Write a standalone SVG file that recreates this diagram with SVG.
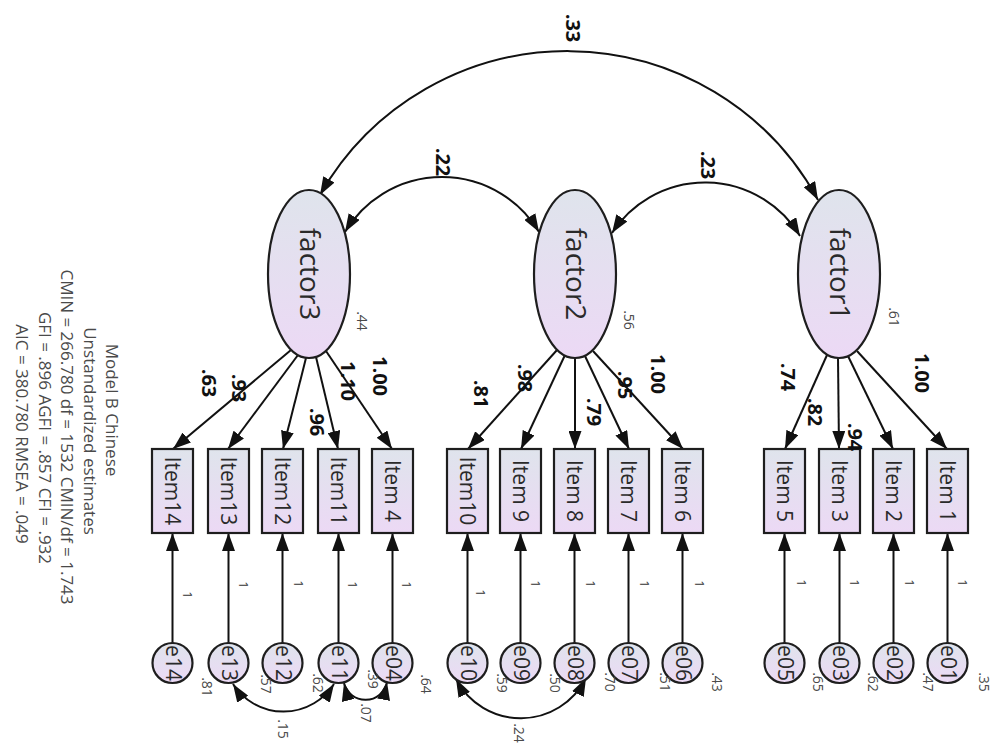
<svg xmlns="http://www.w3.org/2000/svg" width="999" height="747" viewBox="0 0 999 747">
  <style>
    .node { stroke: #1e1e1e; stroke-width: 2.2; fill: url(#shade); }
    .link { fill: none; stroke: #111; stroke-width: 2; }
    .one-way { marker-end: url(#head); }
    .two-way { marker-start: url(#head); marker-end: url(#head); }
    text { font-family: "Open Sans", "Noto Sans", "Liberation Sans", sans-serif; text-anchor: middle; dominant-baseline: central; }
    .item { font-size: 21px; fill: #2a2a2a; }
    .factor { font-size: 28px; fill: #2a2a2a; }
    .err { font-size: 21px; fill: #2a2a2a; }
    .est { font-size: 20px; font-weight: bold; fill: #111; }
    .var { font-size: 14px; fill: #4a4a4a; }
    .fix { font-size: 13px; fill: #333; }
    .fit { font-size: 17px; fill: #4a4a4a; }
  </style>
  <defs>
    <linearGradient id="shade" x1="0" y1="0" x2="0" y2="1">
      <stop offset="0" stop-color="#dfe4ec"/>
      <stop offset="1" stop-color="#ecd9f5"/>
    </linearGradient>
    <marker id="head" markerUnits="userSpaceOnUse" markerWidth="19" markerHeight="13" refX="18" refY="6.5" orient="auto-start-reverse">
      <path d="M0,0 L18,6.5 L0,13 z" fill="#111"/>
    </marker>
  </defs>

  <rect width="999" height="747" fill="#fff"/>

  <!-- model summary -->
  <g id="fit-summary" class="fit">
    <text transform="translate(112,410) rotate(90)">Model B Chinese</text>
    <text transform="translate(90,431) rotate(90)">Unstandardized estimates</text>
    <text transform="translate(67,437) rotate(90)">CMIN = 266.780 df = 1532 CMIN/df = 1.743</text>
    <text transform="translate(45,438) rotate(90)">GFI = .896 AGFI = .857 CFI = .932</text>
    <text transform="translate(22,434) rotate(90)">AIC = 380.780 RMSEA = .049</text>
  </g>

  <!-- connectors -->
  <g id="connectors">
    <!-- factor covariances -->
    <path class="link two-way" d="M320,195 A285,285 0 0,1 818,200"/>
    <path class="link two-way" d="M345,232 A113,113 0 0,1 539,232"/>
    <path class="link two-way" d="M612,233 A111,111 0 0,1 800,236"/>
    <!-- loadings -->
    <path class="link one-way" d="M291,350 L173,449"/>
    <path class="link one-way" d="M298,355 L228,449"/>
    <path class="link one-way" d="M306,358 L283,449"/>
    <path class="link one-way" d="M316,357 L338,449"/>
    <path class="link one-way" d="M326,351 L392,449"/>
    <path class="link one-way" d="M557,350 L468,449"/>
    <path class="link one-way" d="M565,355 L521,449"/>
    <path class="link one-way" d="M575,358 L575,449"/>
    <path class="link one-way" d="M585,356 L629,449"/>
    <path class="link one-way" d="M593,351 L683,449"/>
    <path class="link one-way" d="M827,355 L785,449"/>
    <path class="link one-way" d="M838,358 L839,449"/>
    <path class="link one-way" d="M848,356 L893,449"/>
    <path class="link one-way" d="M857,351 L947,449"/>
    <!-- error terms -->
    <path class="link one-way" d="M172.5,643 V533"/>
    <path class="link one-way" d="M228.5,643 V533"/>
    <path class="link one-way" d="M282.5,643 V533"/>
    <path class="link one-way" d="M338.5,643 V533"/>
    <path class="link one-way" d="M392.5,643 V533"/>
    <path class="link one-way" d="M467.5,643 V533"/>
    <path class="link one-way" d="M520.5,643 V533"/>
    <path class="link one-way" d="M574.5,643 V533"/>
    <path class="link one-way" d="M628.5,643 V533"/>
    <path class="link one-way" d="M682.5,643 V533"/>
    <path class="link one-way" d="M784.5,643 V533"/>
    <path class="link one-way" d="M839.5,643 V533"/>
    <path class="link one-way" d="M893.5,643 V533"/>
    <path class="link one-way" d="M947.5,643 V533"/>
    <!-- error covariances -->
    <path class="link two-way" d="M233,684 A60,60 0 0,0 334,684"/>
    <path class="link two-way" d="M344,683 A22,22 0 0,0 387,682"/>
    <path class="link two-way" d="M456,679 A73,73 0 0,0 586,678"/>
  </g>

  <!-- latent factors -->
  <g id="factor3"><ellipse class="node" cx="309" cy="274" rx="41" ry="84"/><text class="factor" transform="translate(311,274) rotate(90)">factor3</text></g>
  <g id="factor2"><ellipse class="node" cx="575" cy="274" rx="41" ry="84"/><text class="factor" transform="translate(577,274) rotate(90)">factor2</text></g>
  <g id="factor1"><ellipse class="node" cx="839" cy="274" rx="41" ry="84"/><text class="factor" transform="translate(841,274) rotate(90)">factor1</text></g>

  <!-- observed items -->
  <g id="item14"><rect class="node" x="152" y="449" width="41" height="84"/><text class="item" transform="translate(173,491) rotate(90)">Item14</text></g>
  <g id="item13"><rect class="node" x="208" y="449" width="41" height="84"/><text class="item" transform="translate(229,491) rotate(90)">Item13</text></g>
  <g id="item12"><rect class="node" x="262" y="449" width="41" height="84"/><text class="item" transform="translate(283,491) rotate(90)">Item12</text></g>
  <g id="item11"><rect class="node" x="318" y="449" width="41" height="84"/><text class="item" transform="translate(339,491) rotate(90)">Item11</text></g>
  <g id="item4"><rect class="node" x="372" y="449" width="41" height="84"/><text class="item" transform="translate(393,491) rotate(90)">Item 4</text></g>
  <g id="item10"><rect class="node" x="447" y="449" width="41" height="84"/><text class="item" transform="translate(468,491) rotate(90)">Item10</text></g>
  <g id="item9"><rect class="node" x="500" y="449" width="41" height="84"/><text class="item" transform="translate(521,491) rotate(90)">Item 9</text></g>
  <g id="item8"><rect class="node" x="554" y="449" width="41" height="84"/><text class="item" transform="translate(575,491) rotate(90)">Item 8</text></g>
  <g id="item7"><rect class="node" x="608" y="449" width="41" height="84"/><text class="item" transform="translate(629,491) rotate(90)">Item 7</text></g>
  <g id="item6"><rect class="node" x="662" y="449" width="41" height="84"/><text class="item" transform="translate(683,491) rotate(90)">Item 6</text></g>
  <g id="item5"><rect class="node" x="764" y="449" width="41" height="84"/><text class="item" transform="translate(785,491) rotate(90)">Item 5</text></g>
  <g id="item3"><rect class="node" x="819" y="449" width="41" height="84"/><text class="item" transform="translate(840,491) rotate(90)">Item 3</text></g>
  <g id="item2"><rect class="node" x="873" y="449" width="41" height="84"/><text class="item" transform="translate(894,491) rotate(90)">Item 2</text></g>
  <g id="item1"><rect class="node" x="927" y="449" width="41" height="84"/><text class="item" transform="translate(948,491) rotate(90)">Item 1</text></g>

  <!-- error terms -->
  <g id="e14"><circle class="node" cx="172.5" cy="663" r="20"/><text class="err" transform="translate(173.5,663) rotate(90)">e14</text></g>
  <g id="e13"><circle class="node" cx="228.5" cy="663" r="20"/><text class="err" transform="translate(229.5,663) rotate(90)">e13</text></g>
  <g id="e12"><circle class="node" cx="282.5" cy="663" r="20"/><text class="err" transform="translate(283.5,663) rotate(90)">e12</text></g>
  <g id="e11"><circle class="node" cx="338.5" cy="663" r="20"/><text class="err" transform="translate(339.5,663) rotate(90)">e11</text></g>
  <g id="e04"><circle class="node" cx="392.5" cy="663" r="20"/><text class="err" transform="translate(393.5,663) rotate(90)">e04</text></g>
  <g id="e10"><circle class="node" cx="467.5" cy="663" r="20"/><text class="err" transform="translate(468.5,663) rotate(90)">e10</text></g>
  <g id="e09"><circle class="node" cx="520.5" cy="663" r="20"/><text class="err" transform="translate(521.5,663) rotate(90)">e09</text></g>
  <g id="e08"><circle class="node" cx="574.5" cy="663" r="20"/><text class="err" transform="translate(575.5,663) rotate(90)">e08</text></g>
  <g id="e07"><circle class="node" cx="628.5" cy="663" r="20"/><text class="err" transform="translate(629.5,663) rotate(90)">e07</text></g>
  <g id="e06"><circle class="node" cx="682.5" cy="663" r="20"/><text class="err" transform="translate(683.5,663) rotate(90)">e06</text></g>
  <g id="e05"><circle class="node" cx="784.5" cy="663" r="20"/><text class="err" transform="translate(785.5,663) rotate(90)">e05</text></g>
  <g id="e03"><circle class="node" cx="839.5" cy="663" r="20"/><text class="err" transform="translate(840.5,663) rotate(90)">e03</text></g>
  <g id="e02"><circle class="node" cx="893.5" cy="663" r="20"/><text class="err" transform="translate(894.5,663) rotate(90)">e02</text></g>
  <g id="e01"><circle class="node" cx="947.5" cy="663" r="20"/><text class="err" transform="translate(948.5,663) rotate(90)">e01</text></g>

  <!-- estimates -->
  <g id="estimates">
    <text class="est" transform="translate(573,28) rotate(90)">.33</text>
    <text class="est" transform="translate(443,162) rotate(90)">.22</text>
    <text class="est" transform="translate(708,165) rotate(90)">.23</text>

    <text class="est" transform="translate(209,383) rotate(90)">.63</text>
    <text class="est" transform="translate(239,388) rotate(90)">.93</text>
    <text class="est" transform="translate(317,422) rotate(90)">.96</text>
    <text class="est" transform="translate(348,381) rotate(90)">1.10</text>
    <text class="est" transform="translate(380,376) rotate(90)">1.00</text>

    <text class="est" transform="translate(481,394) rotate(90)">.81</text>
    <text class="est" transform="translate(525,378) rotate(90)">.98</text>
    <text class="est" transform="translate(594,412) rotate(90)">.79</text>
    <text class="est" transform="translate(625,385) rotate(90)">.95</text>
    <text class="est" transform="translate(658,374) rotate(90)">1.00</text>

    <text class="est" transform="translate(788,377) rotate(90)">.74</text>
    <text class="est" transform="translate(815,412) rotate(90)">.82</text>
    <text class="est" transform="translate(855,437) rotate(90)">.94</text>
    <text class="est" transform="translate(922,373) rotate(90)">1.00</text>
  </g>

  <!-- variances -->
  <g id="variances" class="var">
    <text transform="translate(362,321) rotate(90)">.44</text>
    <text transform="translate(629,320) rotate(90)">.56</text>
    <text transform="translate(894,317) rotate(90)">.61</text>

    <text transform="translate(207,687) rotate(90)">.81</text>
    <text transform="translate(266,684) rotate(90)">.57</text>
    <text transform="translate(318,683) rotate(90)">.62</text>
    <text transform="translate(373,679) rotate(90)">.39</text>
    <text transform="translate(426,684) rotate(90)">.64</text>
    <text transform="translate(502,683) rotate(90)">.59</text>
    <text transform="translate(555,683) rotate(90)">.50</text>
    <text transform="translate(610,682) rotate(90)">.70</text>
    <text transform="translate(665,682) rotate(90)">.51</text>
    <text transform="translate(717,682) rotate(90)">.43</text>
    <text transform="translate(818,682) rotate(90)">.65</text>
    <text transform="translate(873,682) rotate(90)">.62</text>
    <text transform="translate(928,682) rotate(90)">.47</text>
    <text transform="translate(984,682) rotate(90)">.35</text>

    <text transform="translate(283,729) rotate(90)">.15</text>
    <text transform="translate(366,713) rotate(90)">.07</text>
    <text transform="translate(519,733) rotate(90)">.24</text>
  </g>

  <!-- fixed error weights -->
  <g id="fixed-weights" class="fix">
    <text transform="translate(188,595) rotate(90)">1</text>
    <text transform="translate(244,585) rotate(90)">1</text>
    <text transform="translate(299,584) rotate(90)">1</text>
    <text transform="translate(353,585) rotate(90)">1</text>
    <text transform="translate(407,585) rotate(90)">1</text>
    <text transform="translate(481,593) rotate(90)">1</text>
    <text transform="translate(536,584) rotate(90)">1</text>
    <text transform="translate(591,584) rotate(90)">1</text>
    <text transform="translate(645,584) rotate(90)">1</text>
    <text transform="translate(700,584) rotate(90)">1</text>
    <text transform="translate(802,583) rotate(90)">1</text>
    <text transform="translate(855,583) rotate(90)">1</text>
    <text transform="translate(910,583) rotate(90)">1</text>
    <text transform="translate(963,583) rotate(90)">1</text>
  </g>
</svg>
